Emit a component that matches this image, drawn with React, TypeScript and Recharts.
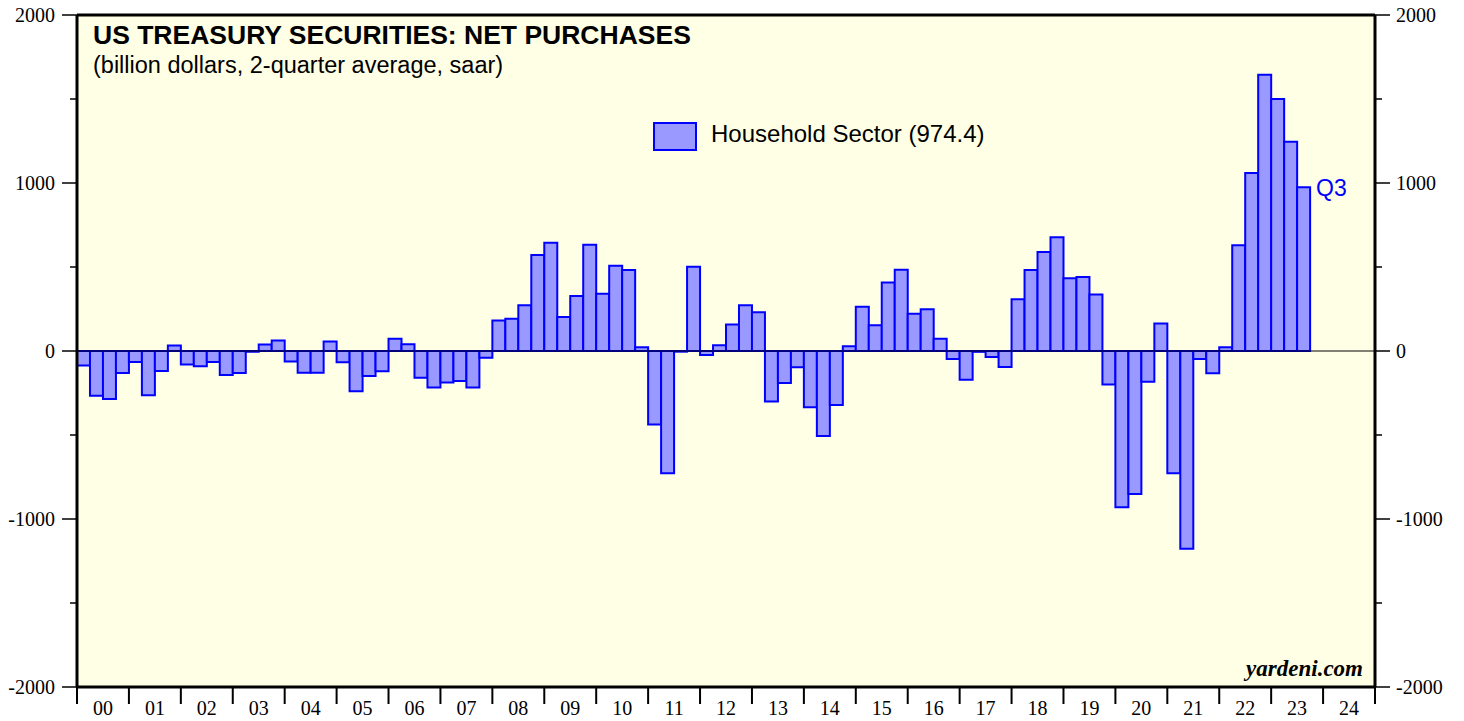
import {
  Bar,
  BarChart,
  CartesianGrid,
  LabelList,
  Legend,
  ReferenceLine,
  XAxis,
  YAxis,
} from "recharts";

const YEAR_LABELS = [
  "00", "01", "02", "03", "04", "05", "06", "07", "08", "09", "10", "11", "12",
  "13", "14", "15", "16", "17", "18", "19", "20", "21", "22", "23", "24",
];
const YEAR_TICKS = [
  2000, 2001, 2002, 2003, 2004, 2005, 2006, 2007, 2008, 2009, 2010, 2011, 2012,
  2013, 2014, 2015, 2016, 2017, 2018, 2019, 2020, 2021, 2022, 2023, 2024, 2025,
];
const Y_TICKS = [-2000, -1500, -1000, -500, 0, 500, 1000, 1500, 2000];

// quarterly, 2000Q1 .. 2023Q3 (billion dollars, 2-quarter avg, saar)
const HOUSEHOLD = [
  -87, -266, -286, -131,
  -65, -264, -119, 32,
  -81, -91, -65, -143,
  -131, -5, 38, 62,
  -62, -129, -129, 56,
  -67, -240, -149, -121,
  73, 40, -159, -218,
  -188, -179, -218, -40,
  181, 192, 272, 571,
  645, 202, 327, 633,
  341, 508, 482, 22,
  -437, -728, -4, 502,
  -24, 34, 157, 272,
  230, -300, -190, -97,
  -335, -506, -321, 28,
  264, 153, 407, 484,
  222, 248, 73, -48,
  -171, -5, -36, -95,
  308, 482, 589, 677,
  433, 440, 337, -200,
  -930, -851, -183, 163,
  -728, -1177, -48, -133,
  22, 629, 1060, 1645,
  1500, 1246, 974.4,
];
const SERIES_NAME = "Household Sector (974.4)";
const LAST_TAG = "Q3";

const W = 1464;
const H = 721;
const LEFT_W = 77;
const RIGHT_W = 89;
const TOP = 15;
const BOTTOM_H = 34;
const YEAR_PX = (W - LEFT_W - RIGHT_W) / (YEAR_TICKS.length - 1);

const SANS = "'Liberation Sans', Arial, sans-serif";
const SERIF = "'Liberation Serif', 'Times New Roman', serif";

const data = HOUSEHOLD.map((v, i) => ({
  t: 2000 + i / 4 + 0.125,
  v,
  tag: i === HOUSEHOLD.length - 1 ? LAST_TAG : "",
}));

function LeftTick(props: any) {
  const { x, y, payload } = props;
  const major = payload.value % 1000 === 0;
  return (
    <g>
      <line x1={x - (major ? 15 : 7)} x2={x} y1={y} y2={y} stroke="#000" strokeWidth={1.5} />
      {major && (
        <text x={x - 22} y={y} textAnchor="end" dominantBaseline="central"
          fontFamily={SERIF} fontSize={20} fill="#000">
          {payload.value}
        </text>
      )}
    </g>
  );
}

function RightTick(props: any) {
  const { x, y, payload } = props;
  const major = payload.value % 1000 === 0;
  return (
    <g>
      <line x1={x} x2={x + (major ? 15 : 7)} y1={y} y2={y} stroke="#000" strokeWidth={1.5} />
      {major && (
        <text x={x + 21} y={y} textAnchor="start" dominantBaseline="central"
          fontFamily={SERIF} fontSize={20} fill="#000">
          {payload.value}
        </text>
      )}
    </g>
  );
}

function YearTick(props: any) {
  const { x, y, payload } = props;
  const i = YEAR_TICKS.indexOf(payload.value);
  return (
    <g>
      <line x1={x} x2={x} y1={y} y2={y + 17} stroke="#000" strokeWidth={2} />
      {i >= 0 && i < YEAR_LABELS.length && (
        <text x={x + YEAR_PX / 2} y={y + 21} textAnchor="middle" dominantBaseline="central"
          fontFamily={SERIF} fontSize={20} fill="#000">
          {YEAR_LABELS[i]}
        </text>
      )}
    </g>
  );
}

function TagLabel(props: any) {
  const { x, y, width, value } = props;
  if (!value) return null;
  return (
    <text x={x + width + 6} y={y + 1} dominantBaseline="central"
      fontFamily={SANS} fontSize={23} fill="#0000ff">
      {value}
    </text>
  );
}

function LegendBox({ payload }: any) {
  const item = payload?.[0];
  return (
    <div style={{ display: "flex", alignItems: "center", fontFamily: SANS, fontSize: 24, color: "#000" }}>
      <div style={{ width: 40, height: 25, background: "#9999ff", border: "2px solid #0000ff" }} />
      <span style={{ marginLeft: 14, marginTop: -6 }}>{item ? item.value : SERIES_NAME}</span>
    </div>
  );
}

export default function App() {
  return (
    <div style={{ position: "absolute", left: 0, top: 0, width: W, height: H, background: "#fff" }}>
      <BarChart
        width={W}
        height={H}
        data={data}
        margin={{ top: TOP, right: 0, bottom: 0, left: 0 }}
        barCategoryGap={0}
        barGap={0}
      >
        <CartesianGrid horizontal={false} vertical={false} fill="#ffffe5" />
        <XAxis
          type="number"
          dataKey="t"
          domain={[2000, 2025]}
          ticks={YEAR_TICKS}
          interval={0}
          height={BOTTOM_H}
          tickSize={0}
          tickMargin={0}
          tickLine={false}
          axisLine={{ stroke: "#000", strokeWidth: 3 }}
          tick={<YearTick />}
        />
        <YAxis
          yAxisId="l"
          domain={[-2000, 2000]}
          ticks={Y_TICKS}
          interval={0}
          width={LEFT_W}
          tickSize={0}
          tickMargin={0}
          tickLine={false}
          allowDataOverflow
          axisLine={{ stroke: "#000", strokeWidth: 3 }}
          tick={<LeftTick />}
        />
        <YAxis
          yAxisId="r"
          orientation="right"
          domain={[-2000, 2000]}
          ticks={Y_TICKS}
          interval={0}
          width={RIGHT_W}
          tickSize={0}
          tickMargin={0}
          tickLine={false}
          allowDataOverflow
          axisLine={{ stroke: "#000", strokeWidth: 3 }}
          tick={<RightTick />}
        />
        <Bar
          yAxisId="l"
          dataKey="v"
          name={SERIES_NAME}
          fill="#9999ff"
          stroke="#0000ff"
          strokeWidth={2}
          isAnimationActive={false}
        >
          <LabelList dataKey="tag" content={<TagLabel />} />
        </Bar>
        <ReferenceLine yAxisId="l" y={0} stroke="#000" strokeWidth={1} />
        <ReferenceLine yAxisId="l" y={2000} stroke="#000" strokeWidth={3} />
        <Legend
          layout="horizontal"
          verticalAlign="middle"
          align="center"
          content={<LegendBox />}
          wrapperStyle={{ left: 653, top: 122, width: "auto", height: "auto" }}
        />
      </BarChart>
      <svg width={W} height={H} style={{ position: "absolute", left: 0, top: 0, pointerEvents: "none" }}>
        <text x={93} y={44} fontFamily={SANS} fontSize={26.5} fontWeight="bold" fill="#000">
          US TREASURY SECURITIES: NET PURCHASES
        </text>
        <text x={93} y={73} fontFamily={SANS} fontSize={23.5} fill="#000">
          (billion dollars, 2-quarter average, saar)
        </text>
        <text x={1363} y={676} textAnchor="end" fontFamily={SERIF} fontSize={23}
          fontWeight="bold" fontStyle="italic" fill="#000">
          yardeni.com
        </text>
      </svg>
    </div>
  );
}
